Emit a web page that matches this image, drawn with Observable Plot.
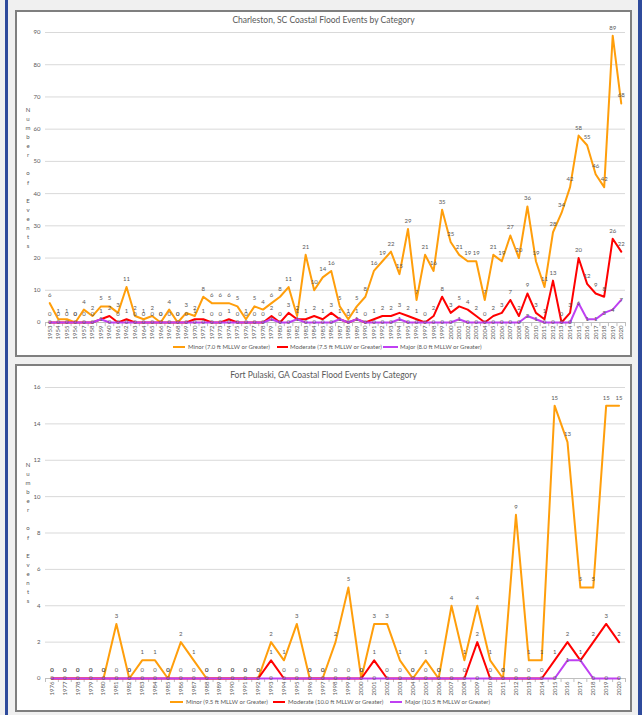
<!DOCTYPE html>
<html><head><meta charset="utf-8">
<script src="https://cdn.jsdelivr.net/npm/d3@7"></script>
<script src="https://cdn.jsdelivr.net/npm/@observablehq/plot@0.6"></script>
<style>
body{margin:0;background:#f0f0f0;width:642px;height:715px;position:relative;overflow:hidden;font-family:Lato,"Open Sans",sans-serif}
.stripe{position:absolute;top:0;height:715px;background:#2f4b9c}
.box{position:absolute;left:15px;width:617px;background:#fff;border:2px solid #7f7f7f;box-sizing:border-box}
.box svg{position:absolute;left:0;top:0}
.title{position:absolute;left:0;right:0;text-align:center;font-size:8.5px;line-height:10px;color:#595959}
.ytitle{position:absolute;font-size:6px;line-height:9.07px;color:#595959;text-align:center;width:10px}
.legend{position:absolute;left:0;top:0;font-size:6px;line-height:8px;color:#595959;white-space:nowrap}
.legend .sw{position:absolute;height:2px}
.legend .lt{position:absolute}
</style></head>
<body>
<div class="stripe" style="left:5px;width:3px"></div>
<div class="stripe" style="left:638px;width:4px"></div>
<div class="box" id="box1" style="top:10px;height:347px"></div>
<div class="box" id="box2" style="top:364px;height:348px"></div>
<script>
// ---------- Charleston, SC ----------
const chsYears = [1953,1954,1955,1956,1957,1958,1959,1960,1961,1962,1963,1964,1965,1966,1967,1968,1969,1970,1971,1972,1973,1974,1975,1976,1977,1978,1979,1980,1981,1982,1983,1984,1985,1986,1987,1988,1989,1990,1991,1992,1993,1994,1995,1996,1997,1998,1999,2000,2001,2002,2003,2004,2005,2006,2007,2008,2009,2010,2011,2012,2013,2014,2015,2016,2017,2018,2019,2020];
const chsMinor = [6,1,1,0,4,2,5,5,3,11,2,1,2,0,4,0,3,2,8,6,6,6,5,1,5,4,6,8,11,2,21,10,14,16,5,1,5,8,16,19,22,15,29,7,21,16,35,25,21,19,19,7,21,19,27,20,36,19,11,28,34,42,58,55,46,42,89,68];
const chsModerate = [0,0,0,0,0,0,1,2,0,1,0,0,0,0,0,0,0,1,1,0,0,1,0,0,0,0,2,0,3,1,1,2,1,3,1,0,1,0,1,2,2,3,2,1,0,2,8,3,5,4,2,0,2,3,7,2,9,3,1,13,0,3,20,12,9,8,26,22];
const chsMajor = [0,0,0,0,0,0,1,0,0,0,0,0,0,0,0,0,0,0,0,0,0,0,0,0,0,0,1,0,0,1,0,0,0,0,1,0,1,0,0,0,0,1,0,0,0,0,0,0,1,0,0,0,0,0,0,0,2,1,0,0,0,0,6,1,1,3,4,7];
const chsYTicks = [0,10,20,30,40,50,60,70,80,90];
const chsTitle = "Charleston, SC Coastal Flood Events by Category";
const chsLegend = ["Minor (7.0 ft MLLW or Greater)","Moderate (7.5 ft MLLW or Greater)","Major (8.0 ft MLLW or Greater)"];

// ---------- Fort Pulaski, GA ----------
const fpYears = [1976,1977,1978,1979,1980,1981,1982,1983,1984,1985,1986,1987,1988,1989,1990,1991,1992,1993,1994,1995,1996,1997,1998,1999,2000,2001,2002,2003,2004,2005,2006,2007,2008,2009,2010,2011,2012,2013,2014,2015,2016,2017,2018,2019,2020];
const fpMinor = [0,0,0,0,0,3,0,1,1,0,2,1,0,0,0,0,0,2,1,3,0,0,2,5,0,3,3,1,0,1,0,4,1,4,1,0,9,1,1,15,13,5,5,15,15];
const fpModerate = [0,0,0,0,0,0,0,0,0,0,0,0,0,0,0,0,0,1,0,0,0,0,0,0,0,1,0,0,0,0,0,0,0,2,0,0,0,0,0,1,2,1,2,3,2];
const fpMajor = [0,0,0,0,0,0,0,0,0,0,0,0,0,0,0,0,0,0,0,0,0,0,0,0,0,0,0,0,0,0,0,0,0,0,0,0,0,0,0,0,1,1,0,0,0];
const fpYTicks = [0,2,4,6,8,10,12,14,16];
const fpTitle = "Fort Pulaski, GA Coastal Flood Events by Category";
const fpLegend = ["Minor (9.5 ft MLLW or Greater)","Moderate (10.0 ft MLLW or Greater)","Major (10.5 ft MLLW or Greater)"];

const yAxisTitle = "Number of Events";
const colors = ["#ff9e0b","#ff0000","#bf40f2"];
const labelColor = "#595959";

function build(boxId, cfg) {
  const box = document.getElementById(boxId);
  const data = cfg.years.map((yr, i) => ({year: yr, minor: cfg.minor[i], moderate: cfg.moderate[i], major: cfg.major[i]}));
  const bounds = cfg.years.map(y => y - 0.5).concat([cfg.years[cfg.years.length - 1] + 0.5]);
  const keys = ["minor","moderate","major"];
  const marks = [
    Plot.gridY(cfg.yTicks, {stroke: "#d9d9d9", strokeOpacity: 1}),
    Plot.axisY(cfg.yTicks, {tickSize: 0, tickPadding: 5, fontSize: 6, label: null}),
    Plot.axisX(cfg.years, {tickRotate: -90, tickSize: 0, tickPadding: 3, fontSize: 6, label: null, tickFormat: d => String(d)}),
    Plot.ruleY([0], {stroke: "#bfbfbf"}),
    Plot.ruleX(bounds, {x: d => d, y1: 0, y2: cfg.tickLen, stroke: "#bfbfbf"})
  ];
  keys.forEach((k, j) => marks.push(Plot.line(data, {x: "year", y: k, stroke: colors[j], strokeWidth: 2, strokeLinejoin: "round"})));
  keys.forEach((k, j) => marks.push(Plot.text(data, {x: "year", y: k, text: d => String(d[k]), dy: j === 2 ? 0 : -8, fontSize: 6, fill: labelColor})));
  const svg = Plot.plot({
    width: 613, height: cfg.height,
    marginLeft: 28, marginRight: 5, marginTop: cfg.mt, marginBottom: cfg.mb,
    x: {domain: [cfg.years[0] - 0.5, cfg.years[cfg.years.length - 1] + 0.5]},
    y: {domain: [0, cfg.yTicks[cfg.yTicks.length - 1]]},
    style: {fontFamily: "Lato, 'Open Sans', sans-serif", color: labelColor, background: "transparent", overflow: "visible"},
    marks
  });
  box.appendChild(svg);
  const t = document.createElement("div");
  t.className = "title"; t.style.top = cfg.titleTop + "px"; t.textContent = cfg.title;
  box.appendChild(t);
  const yt = document.createElement("div");
  yt.className = "ytitle"; yt.style.left = "6px"; yt.style.top = cfg.yTitleTop + "px";
  yt.innerHTML = yAxisTitle.split("").map(c => c === " " ? "&nbsp;" : c).join("<br>");
  box.appendChild(yt);
  const lg = document.createElement("div");
  lg.className = "legend"; lg.style.top = cfg.legendTop + "px";
  cfg.legend.forEach((txt, j) => {
    const p = cfg.legendPos[j];
    const sw = document.createElement("div");
    sw.className = "sw"; sw.style.left = p[0] + "px"; sw.style.width = p[1] + "px"; sw.style.top = "3px"; sw.style.background = colors[j];
    const lt = document.createElement("div");
    lt.className = "lt"; lt.style.left = p[2] + "px"; lt.style.top = "0px"; lt.textContent = txt;
    lg.appendChild(sw); lg.appendChild(lt);
  });
  box.appendChild(lg);
}

build("box1", {years: chsYears, minor: chsMinor, moderate: chsModerate, major: chsMajor, yTicks: chsYTicks,
  title: chsTitle, legend: chsLegend, height: 343, mt: 20, mb: 33, tickLen: -1.3,
  titleTop: 3, yTitleTop: 93, legendTop: 331, legendPos: [[156,12,171],[260,11,273],[366,15,383]]});
build("box2", {years: fpYears, minor: fpMinor, moderate: fpModerate, major: fpMajor, yTicks: fpYTicks,
  title: fpTitle, legend: fpLegend, height: 344, mt: 21, mb: 32, tickLen: -0.22,
  titleTop: 4, yTitleTop: 94, legendTop: 332, legendPos: [[153,13,169],[256,12,271],[373,12,388]]});
</script>
</body></html>
